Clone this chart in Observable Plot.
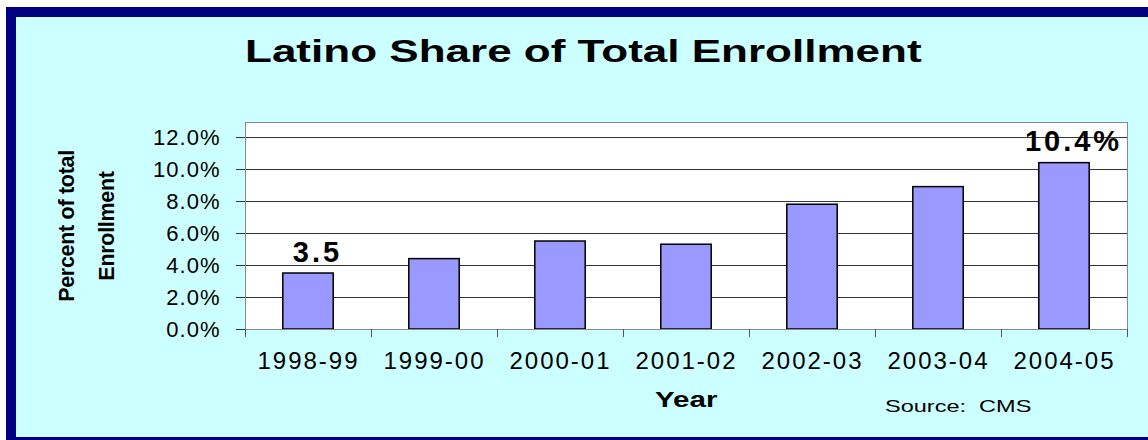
<!DOCTYPE html>
<html>
<head>
<meta charset="utf-8">
<script src="https://cdn.jsdelivr.net/npm/d3@7"></script>
<script src="https://cdn.jsdelivr.net/npm/@observablehq/plot@0.6"></script>
<style>
  html, body { margin: 0; padding: 0; background: #fff; }
  #page { position: relative; width: 1148px; height: 440px; overflow: hidden; background: #fff;
          font-family: "Liberation Sans", Arial, sans-serif; }
  #box { position: absolute; left: 6px; top: 7px; width: 1160px; height: 440px; box-sizing: border-box;
         border: 10px solid #000080; background: #CCFFFF; }
  .stretch { position: absolute; white-space: pre; transform-origin: left center; color: #000; }
  #title { left: 245px; top: 36px; font-weight: bold; font-size: 31px; line-height: 31px; transform: scaleX(1.42); }
  #xtitle { left: 655px; top: 389px; font-weight: bold; font-size: 21.6px; line-height: 21.6px; transform: scaleX(1.367); }
  #source { left: 885px; top: 397.7px; font-size: 16.5px; line-height: 16.5px; transform: scaleX(1.425); }
  #chart { position: absolute; left: 0; top: 100px; }
  g[aria-label="y-axis tick label"] text { letter-spacing: 1px; }
  g[aria-label="x-axis tick label"] text { letter-spacing: 2px; }
  g[aria-description="value-label"] text { letter-spacing: 3px; }
  g[aria-description="y-title"] text { letter-spacing: -0.3px; }
</style>
</head>
<body>
<div id="page">
  <div id="box"></div>
  <div id="title" class="stretch">Latino Share of Total Enrollment</div>
  <div id="chart"></div>
  <div id="xtitle" class="stretch">Year</div>
  <div id="source" class="stretch">Source:  CMS</div>
</div>
<script>
const years = ["1998-99", "1999-00", "2000-01", "2001-02", "2002-03", "2003-04", "2004-05"];
const shares = [3.5, 4.4, 5.5, 5.3, 7.8, 8.9, 10.4];
const valueLabels = ["3.5", "", "", "", "", "", "10.4%"];
const yTicks = [0, 2, 4, 6, 8, 10, 12];
const yMax = 12.94;
const yTitle = "Percent of total\nEnrollment";

const barPad = 0.3;
const data = years.map((year, i) => ({i, year, share: shares[i], label: valueLabels[i]}));

const chart = Plot.plot({
  width: 1148,
  height: 280,
  marginLeft: 245,
  marginRight: 21,
  marginTop: 22,
  marginBottom: 51,
  style: {fontFamily: "'Liberation Sans', Arial, sans-serif", background: "transparent", color: "#000", overflow: "visible"},
  x: {type: "linear", domain: [0, years.length]},
  y: {domain: [0, yMax]},
  marks: [
    Plot.frame({fill: "#fff"}),
    Plot.gridY(yTicks, {stroke: "#333", strokeOpacity: 1}),
    Plot.rectY(data, {x1: d => d.i + barPad, x2: d => d.i + 1 - barPad, y: "share",
                      fill: "#9999FF", stroke: "#000", strokeWidth: 1.5}),
    Plot.ruleY([0], {stroke: "#333"}),
    Plot.frame({stroke: "#888"}),
    Plot.axisY({ticks: yTicks, tickSize: 9, tickPadding: 16, stroke: "#333", fontSize: 22,
                tickFormat: d => d.toFixed(1) + "%", label: null}),
    Plot.axisX({ticks: d3.range(years.length + 1), tickSize: 8, stroke: "#555",
                tickFormat: () => "", label: null}),
    Plot.axisX({ticks: d3.range(years.length).map(i => i + 0.5), tickSize: 0, tickPadding: 22, fontSize: 24,
                tickFormat: v => years[Math.floor(v)], label: null}),
    Plot.text(data.filter(d => d.label), {x: d => d.i + 0.5, y: "share", text: "label", dy: -21, dx: 9,
                fontSize: 29, fontWeight: "bold", fill: "#000", ariaDescription: "value-label"}),
    Plot.text([yTitle], {frameAnchor: "left", rotate: -90, dx: -164.5, textAnchor: "middle",
                fontSize: 21.5, fontWeight: "bold", lineHeight: 1.86, fill: "#000", ariaDescription: "y-title"})
  ]
});
document.getElementById("chart").appendChild(chart);
</script>
</body>
</html>
